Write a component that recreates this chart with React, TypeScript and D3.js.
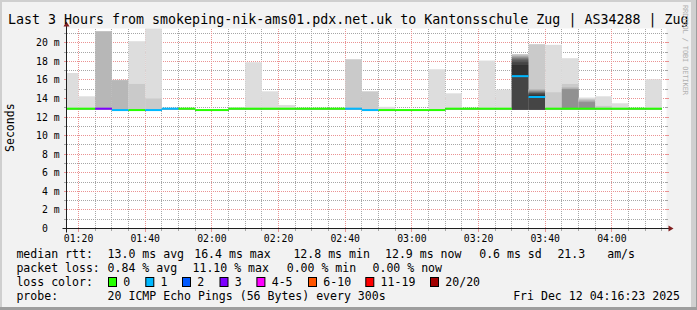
import React from "react";
import * as d3 from "d3";

// ---------- data ----------
const slotStart: string[] = [
  "01:15", "01:20", "01:25", "01:30", "01:35", "01:40", "01:45", "01:50", "01:55",
  "02:00", "02:05", "02:10", "02:15", "02:20", "02:25", "02:30", "02:35", "02:40",
  "02:45", "02:50", "02:55", "03:00", "03:05", "03:10", "03:15", "03:20", "03:25",
  "03:30", "03:35", "03:40", "03:45", "03:50", "03:55", "04:00", "04:05", "04:10",
];

// median rtt per 5-minute step (ms)
const medianRtt: number[] = [
  12.9, 12.9, 12.9, 12.75, 12.75, 12.75, 12.9, 12.9, 12.75,
  12.75, 12.9, 12.9, 12.9, 12.9, 12.9, 12.9, 12.9, 12.9,
  12.75, 12.75, 12.75, 12.75, 12.75, 12.9, 12.9, 12.9, 12.9,
  16.4, 14.16, 12.9, 12.9, 12.9, 12.9, 12.9, 12.9, 12.9,
];

// lost pings (of 20) per step
const lossCount: number[] = [
  0, 0, 3, 1, 0, 1, 1, 0, 0,
  0, 0, 0, 0, 0, 0, 0, 0, 1,
  1, 0, 0, 0, 0, 0, 0, 0, 0,
  1, 1, 0, 0, 0, 0, 0, 0, 0,
];

// lowest pings (ping 1..9) per step (ms)
const lowRtt: number[] = [
  12.85, 12.85, 12.85, 12.7, 12.7, 12.7, 12.85, 12.85, 12.7,
  12.7, 12.85, 12.85, 12.85, 12.85, 12.85, 12.85, 12.85, 12.85,
  12.7, 12.7, 12.7, 12.7, 12.7, 12.85, 12.85, 12.85, 12.85,
  12.8, 12.8, 12.85, 12.85, 12.85, 12.85, 12.85, 12.85, 12.85,
];

// highest pings per step, from ping 20 downwards (null = lost); unlisted = median
const upperPings: (number | null)[][] = [
  [16.74], [14.23], [null, null, 21.24], [null, 16.0, 15.95], [20.16, 15.56], [22.6, 14.0],
  [null], [], [], [], [13.05], [17.9], [14.77], [13.3], [], [], [], [null, 18.22],
  [null, 14.77], [13.1], [], [], [17.14], [14.55], [], [18.08], [14.95],
  [null, 18.78, 18.65, 18.55, 18.45, 18.35, 18.25, 18.1, 17.9, 17.6],
  [null, 19.84, 15.0, 14.9, 14.8, 14.72, 14.65, 14.58, 14.5, 14.35],
  [19.77, 14.66], [18.33, 15.56, 15.2, 15.05, 15.0], [14.1, 13.95, 13.84, 13.7, 13.6],
  [14.23, 13.2], [13.48], [], [16.06],
];

const yTickValues: number[] = [0, 2, 4, 6, 8, 10, 12, 14, 16, 18, 20];
const yTickLabels: string[] = ["0", "2 m", "4 m", "6 m", "8 m", "10 m", "12 m", "14 m", "16 m", "18 m", "20 m"];
const xTickLabels: string[] = ["01:20", "01:40", "02:00", "02:20", "02:40", "03:00", "03:20", "03:40", "04:00"];

const lossLabels: string[] = ["0", "1", "2", "3", "4-5", "6-10", "11-19", "20/20"];
const lossColors: string[] = ["#26ff00", "#00b8ff", "#0059ff", "#7e00ff", "#ff00ff", "#ff5500", "#ff0000", "#a10000"];
const lossUpper: number[] = [0, 1, 2, 3, 5, 10, 19, 20];

const title = "Last 3 Hours from smokeping-nik-ams01.pdx.net.uk to Kantonsschule Zug | AS34288 | Zug";
const rttStats: string[] = ["median rtt:", "13.0 ms avg", "16.4 ms max", "12.8 ms min", "12.9 ms now", "0.6 ms sd", "21.3", "am/s"];
const lossStats: string[] = ["packet loss:", "0.84 % avg", "11.10 % max", "0.00 % min", "0.00 % now"];
const probeText = ["probe:", "20 ICMP Echo Pings (56 Bytes) every 300s", "Fri Dec 12 04:16:23 2025"];

const DAY = "2025-12-12T";
const tStart = new Date(DAY + "01:16:23");
const tEnd = new Date(DAY + "04:16:23");
const STEP = 5 * 60 * 1000;

// ---------- layout ----------
const W = 697, H = 310;
const X0 = 66.5, X1 = 666.5, Y0 = 228.5, Y1 = 28.5;
const MONO = "'DejaVu Sans Mono', monospace";
const rttX = [16.4, 107.6, 194.2, 293.4, 385, 479.2, 557.4, 607.2];
const lossX = [16.4, 107.6, 192.5, 286.7, 372.5];
const boxX = [108, 145.3, 182, 219.5, 256.4, 308, 365.3, 430];

function lossIndex(n: number) {
  for (let i = 0; i < lossUpper.length; i++) if (n <= lossUpper[i]) return i;
  return lossUpper.length - 1;
}
const row = (v: number) => Math.round(v - 0.5);

export default function App() {
  const x = d3.scaleTime().domain([tStart, tEnd]).range([X0, X1]);
  const y = d3.scaleLinear().domain([0, 21.53]).range([Y0, Y1]);

  const minorX = d3.timeMinute.every(5)!.range(tStart, tEnd).filter((t) => t.getMinutes() % 20 !== 0);
  const majorX = d3.timeMinute.every(20)!.range(tStart, tEnd);
  const minorY = d3.range(1, 22, 2);
  const majorY = yTickValues.filter((v) => v > 0);

  const bands: { x0: number; x1: number; lo: number; hi: number; c: string }[] = [];
  const medians: { x0: number; x1: number; v: number; c: string }[] = [];
  slotStart.forEach((s, i) => {
    const st = new Date(DAY + s + ":00");
    const en = new Date(st.getTime() + STEP);
    const xa = x(st < tStart ? tStart : st);
    const xb = x(en);
    const p: (number | null)[] = [];
    for (let k = 0; k < 9; k++) p.push(lowRtt[i]);
    for (let k = 9; k < 20; k++) p.push(medianRtt[i]);
    upperPings[i].forEach((v, k) => (p[19 - k] = v));
    const half = 10;
    for (let ib = 1, it = 20; ib < it; ib++, it--) {
      const lo = p[ib - 1], hi = p[it - 1];
      if (lo == null || hi == null || hi <= lo) continue;
      const g = Math.floor((190 / half) * (half - ib)) + 50;
      bands.push({ x0: xa, x1: xb, lo, hi, c: d3.rgb(g, g, g).formatHex() });
    }
    medians.push({ x0: xa, x1: xb, v: medianRtt[i], c: lossColors[lossIndex(lossCount[i])] });
  });

  const minorGrid = "#a6a6a6";
  const majorGrid = "#ea9292";
  const px0 = Math.floor(X0) + 1, px1 = Math.floor(X1);
  const gy0 = Math.ceil(Y1), gy1 = Math.floor(Y0);

  // dotted grid as individual 1px dots
  const hDots = (v: number) => d3.range(px0, px1, 2).map((xx) => `M${xx},${row(y(v))}h1v1h-1z`).join("");
  const vDots = (t: Date) => d3.range(gy0, gy1, 2).map((yy) => `M${row(x(t))},${yy}h1v1h-1z`).join("");

  return (
    <svg width={W} height={H} style={{ display: "block", position: "absolute", left: 0, top: 0 }} fontFamily={MONO}>
      <defs>
        <clipPath id="plot">
          <rect x={X0} y={Y1} width={X1 - X0} height={Y0 - Y1} />
        </clipPath>
      </defs>
      <rect x={0} y={0} width={W} height={H} fill="#f2f2f2" />
      <rect x={0} y={0} width={W} height={2} fill="#cfcfcf" />
      <rect x={0} y={0} width={2} height={H} fill="#cfcfcf" />
      <rect x={W - 6} y={0} width={6} height={H} fill="#d0d0d0" />
      <rect x={W - 1} y={0} width={1} height={H} fill="#9e9e9e" />
      <rect x={0} y={H - 3} width={W} height={3} fill="#9e9e9e" />

      <rect x={X0} y={Y1} width={X1 - X0} height={Y0 - Y1} fill="#ffffff" />

      <g shapeRendering="crispEdges">
        <path d={minorY.map(hDots).join("") + minorX.map(vDots).join("")} fill={minorGrid} />
        <path d={majorY.map(hDots).join("") + majorX.map(vDots).join("")} fill={majorGrid} />
        {minorY.map((v) => (
          <g key={"my" + v}>
            <rect x={px0 - 3} y={row(y(v))} width={2} height={1} fill={minorGrid} />
            <rect x={px1} y={row(y(v))} width={2} height={1} fill={minorGrid} />
          </g>
        ))}
        {minorX.map((t) => (
          <rect key={"mx" + t.getTime()} x={row(x(t))} y={gy1 + 1} width={1} height={2} fill={minorGrid} />
        ))}
        {majorY.map((v) => (
          <g key={"My" + v}>
            <rect x={px0 - 3} y={row(y(v))} width={2} height={1} fill={majorGrid} />
            <rect x={px1} y={row(y(v))} width={3} height={1} fill={majorGrid} />
          </g>
        ))}
        {majorX.map((t) => (
          <rect key={"Mx" + t.getTime()} x={row(x(t))} y={gy1 + 1} width={1} height={3} fill={majorGrid} />
        ))}
      </g>

      <g clipPath="url(#plot)">
        {bands.map((b, i) => (
          <rect key={"b" + i} x={b.x0} width={b.x1 - b.x0} y={y(b.hi)} height={y(b.lo) - y(b.hi)} fill={b.c} />
        ))}
        {medians.map((m, i) => (
          <rect key={"m" + i} x={m.x0} width={m.x1 - m.x0} y={y(m.v) - 1} height={2} fill={m.c} />
        ))}
      </g>

      <line x1={X0 - 4} x2={X1 + 4} y1={Y0} y2={Y0} stroke="#1f1f1f" strokeWidth={1} />
      <line x1={X0} x2={X0} y1={Y0 + 4} y2={Y1 - 4} stroke="#1f1f1f" strokeWidth={1} />
      <polygon points={`${X1 + 2},${Y0 - 3} ${X1 + 2},${Y0 + 3} ${X1 + 7},${Y0}`} fill="#801f1f" />
      <polygon points={`${X0 - 3},${Y1 - 2} ${X0 + 3},${Y1 - 2} ${X0},${Y1 - 7}`} fill="#801f1f" />

      <g fontSize={9.8} fill="#000">
        {yTickValues.map((v, i) => (
          <text key={"yl" + v} x={v === 0 ? 48 : 59.6} y={row(y(v)) + 4} textAnchor="end">
            {yTickLabels[i]}
          </text>
        ))}
        {majorX.map((t, i) => (
          <text key={"xl" + i} x={x(t)} y={241.5} textAnchor="middle">
            {xTickLabels[i]}
          </text>
        ))}
      </g>

      <text x={14} y={127.7} transform="rotate(-90 14 127.7)" textAnchor="middle" fontSize={11.55} fill="#000">
        Seconds
      </text>

      <text x={8} y={23.5} fontSize={13.3} fill="#000">{title}</text>

      <text x={683} y={5} transform="rotate(90 683 5)" fontSize={7} fill="#b0b0b0" textLength={90} lengthAdjust="spacing">
        RRDTOOL / TOBI OETIKER
      </text>

      <g fontSize={11.55} fill="#000" style={{ whiteSpace: "pre" }}>
        {rttStats.map((s, i) => (
          <text key={"r" + i} x={rttX[i]} y={258}>{s}</text>
        ))}
        {lossStats.map((s, i) => (
          <text key={"l" + i} x={lossX[i]} y={272}>{s}</text>
        ))}
        <text x={16.4} y={286}>loss color:</text>
        {lossLabels.map((s, i) => (
          <g key={"lc" + i}>
            <rect x={boxX[i] + 0.5} y={277.5} width={8} height={9} fill={lossColors[i]} stroke="#000" strokeWidth={1} />
            <text x={boxX[i] + 15.3} y={286}>{s}</text>
          </g>
        ))}
        <text x={16.4} y={300}>{probeText[0]}</text>
        <text x={107.6} y={300}>{probeText[1]}</text>
        <text x={680} y={300} textAnchor="end">{probeText[2]}</text>
      </g>
    </svg>
  );
}
